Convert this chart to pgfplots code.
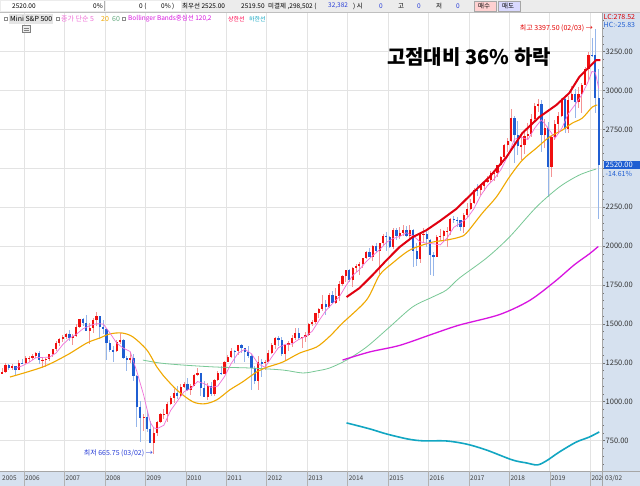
\documentclass[border=0pt]{standalone}
\usepackage{pgfplots}
\pgfplotsset{compat=1.18}
\usepackage{pgfplotstable}
\usepackage{fontspec}
\setmainfont{Noto Sans CJK KR}

\definecolor{upbody}{HTML}{F01010}
\definecolor{upwick}{HTML}{F49494}
\definecolor{dnbody}{HTML}{1F5ED2}
\definecolor{dnwick}{HTML}{96B6EA}
\definecolor{strip}{HTML}{D6E1EF}
\definecolor{gridc}{HTML}{E3E3E3}
\definecolor{ma5}{HTML}{F070D8}
\definecolor{ma20}{HTML}{F0A800}
\definecolor{ma60}{HTML}{78C896}
\definecolor{bbmid}{HTML}{D814E0}
\definecolor{bbup}{HTML}{E00010}
\definecolor{bblo}{HTML}{12A6C2}
\definecolor{barbg}{HTML}{ECECEC}
\definecolor{txtblue}{HTML}{2A3FD8}

% monthly candles: year month open high low close
\pgfplotstableread{
yr mo o h l c
2005 6 1180 1219 1176 1191
2005 7 1191 1246 1183 1234
2005 8 1234 1245 1201 1220
2005 9 1220 1243 1205 1229
2005 10 1229 1233 1168 1207
2005 11 1207 1270 1201 1249
2005 12 1249 1276 1246 1248
2006 1 1248 1295 1245 1280
2006 2 1280 1297 1253 1281
2006 3 1281 1310 1268 1295
2006 4 1295 1319 1280 1311
2006 5 1311 1326 1245 1270
2006 6 1270 1285 1219 1271
2006 7 1271 1283 1224 1277
2006 8 1277 1306 1261 1304
2006 9 1304 1340 1290 1336
2006 10 1336 1389 1327 1378
2006 11 1378 1407 1360 1401
2006 12 1401 1431 1385 1418
2007 1 1418 1441 1403 1438
2007 2 1438 1461 1389 1407
2007 3 1407 1438 1364 1421
2007 4 1421 1499 1416 1482
2007 5 1482 1535 1476 1531
2007 6 1531 1540 1484 1503
2007 7 1503 1556 1454 1455
2007 8 1455 1504 1370 1474
2007 9 1474 1539 1439 1527
2007 10 1527 1576 1489 1549
2007 11 1549 1553 1406 1481
2007 12 1481 1523 1435 1468
2008 1 1468 1471 1270 1379
2008 2 1379 1396 1317 1331
2008 3 1331 1359 1257 1323
2008 4 1323 1397 1318 1386
2008 5 1386 1440 1373 1400
2008 6 1400 1404 1272 1280
2008 7 1280 1292 1200 1267
2008 8 1267 1314 1248 1283
2008 9 1283 1304 1133 1166
2008 10 1166 1171 840 969
2008 11 969 1007 741 896
2008 12 896 919 815 903
2009 1 903 943 805 826
2009 2 826 876 733 737
2009 3 737 832 666 798
2009 4 798 878 783 873
2009 5 873 930 866 919
2009 6 919 956 888 921
2009 7 921 996 869 987
2009 8 987 1039 978 1021
2009 9 1021 1080 992 1057
2009 10 1057 1101 1020 1036
2009 11 1036 1113 1029 1096
2009 12 1096 1130 1086 1115
2010 1 1115 1150 1071 1074
2010 2 1074 1112 1045 1104
2010 3 1104 1180 1102 1169
2010 4 1169 1220 1168 1187
2010 5 1187 1188 1040 1089
2010 6 1089 1131 1029 1031
2010 7 1031 1120 1011 1102
2010 8 1102 1129 1040 1049
2010 9 1049 1148 1040 1141
2010 10 1141 1196 1132 1183
2010 11 1183 1228 1174 1181
2010 12 1181 1263 1177 1258
2011 1 1258 1303 1256 1286
2011 2 1286 1345 1284 1327
2011 3 1327 1332 1249 1326
2011 4 1326 1367 1299 1364
2011 5 1364 1371 1311 1345
2011 6 1345 1346 1258 1321
2011 7 1321 1357 1282 1292
2011 8 1292 1307 1077 1219
2011 9 1219 1230 1114 1131
2011 10 1131 1293 1075 1253
2011 11 1253 1277 1159 1247
2011 12 1247 1270 1202 1258
2012 1 1258 1334 1255 1312
2012 2 1312 1378 1310 1366
2012 3 1366 1419 1341 1408
2012 4 1408 1422 1358 1398
2012 5 1398 1416 1291 1310
2012 6 1310 1363 1267 1362
2012 7 1362 1392 1326 1379
2012 8 1379 1426 1355 1407
2012 9 1407 1475 1396 1441
2012 10 1441 1471 1403 1412
2012 11 1412 1419 1343 1416
2012 12 1416 1448 1385 1426
2013 1 1426 1503 1423 1498
2013 2 1498 1525 1485 1515
2013 3 1515 1570 1501 1569
2013 4 1569 1600 1536 1598
2013 5 1598 1687 1581 1631
2013 6 1631 1654 1560 1606
2013 7 1606 1698 1603 1686
2013 8 1686 1709 1627 1633
2013 9 1633 1730 1630 1682
2013 10 1682 1775 1646 1757
2013 11 1757 1813 1746 1806
2013 12 1806 1849 1767 1848
2014 1 1848 1850 1770 1783
2014 2 1783 1867 1737 1859
2014 3 1859 1883 1834 1872
2014 4 1872 1897 1814 1884
2014 5 1884 1926 1862 1924
2014 6 1924 1968 1915 1960
2014 7 1960 1991 1930 1931
2014 8 1931 2005 1905 2003
2014 9 2003 2019 1964 1972
2014 10 1972 2020 1821 2018
2014 11 2018 2075 2001 2068
2014 12 2068 2093 1972 2059
2015 1 2059 2064 1988 1995
2015 2 1995 2119 1981 2105
2015 3 2105 2117 2040 2068
2015 4 2068 2126 2048 2086
2015 5 2086 2135 2067 2107
2015 6 2107 2130 2056 2063
2015 7 2063 2133 2044 2104
2015 8 2104 2113 1867 1972
2015 9 1972 2021 1872 1920
2015 10 1920 2094 1893 2079
2015 11 2079 2116 2019 2080
2015 12 2080 2104 1993 2044
2016 1 2038 2045 1812 1940
2016 2 1940 1962 1810 1932
2016 3 1932 2072 1931 2060
2016 4 2060 2111 2033 2065
2016 5 2065 2103 2025 2097
2016 6 2097 2120 1992 2099
2016 7 2099 2178 2074 2174
2016 8 2174 2193 2147 2171
2016 9 2171 2187 2120 2168
2016 10 2168 2169 2097 2126
2016 11 2126 2214 2084 2199
2016 12 2199 2278 2187 2239
2017 1 2239 2300 2234 2279
2017 2 2279 2371 2271 2364
2017 3 2364 2401 2322 2363
2017 4 2363 2398 2329 2384
2017 5 2384 2418 2353 2412
2017 6 2412 2454 2405 2423
2017 7 2423 2484 2407 2470
2017 8 2470 2491 2417 2472
2017 9 2472 2522 2447 2519
2017 10 2519 2582 2515 2575
2017 11 2575 2657 2557 2648
2017 12 2648 2695 2605 2674
2018 1 2674 2879 2668 2824
2018 2 2824 2836 2533 2714
2018 3 2714 2803 2586 2641
2018 4 2641 2718 2553 2648
2018 5 2648 2743 2595 2705
2018 6 2705 2791 2691 2718
2018 7 2718 2848 2699 2816
2018 8 2816 2917 2803 2902
2018 9 2902 2944 2864 2914
2018 10 2914 2940 2604 2712
2018 11 2712 2815 2632 2760
2018 12 2760 2800 2316 2507
2019 1 2507 2708 2443 2704
2019 2 2704 2813 2681 2784
2019 3 2784 2860 2722 2834
2019 4 2834 2949 2830 2946
2019 5 2946 2954 2728 2752
2019 6 2752 2964 2728 2942
2019 7 2942 3028 2940 2980
2019 8 2980 3013 2822 2926
2019 9 2926 3022 2891 2977
2019 10 2977 3050 2855 3038
2019 11 3038 3154 3035 3141
2019 12 3141 3248 3070 3231
2020 1 3231 3337 3214 3226
2020 2 3226 3397.5 2853 2951
2020 3 2951 3136 2174 2520
}\candles

% 5-month average of closes
\pgfplotstableread{
yr mo v
2005 10 1216
2005 12 1231
2006 2 1253
2006 4 1283
2006 6 1285
2006 8 1286
2006 10 1313
2006 12 1367
2007 2 1408
2007 4 1433
2007 6 1469
2007 8 1489
2007 10 1502
2007 12 1500
2008 2 1442
2008 4 1377
2008 6 1344
2008 8 1323
2008 10 1193
2008 12 1043
2009 1 952
2009 2 866
2009 3 832
2009 4 827
2009 6 849
2009 8 944
2009 10 1004
2009 12 1065
2010 2 1085
2010 4 1130
2010 6 1116
2010 8 1092
2010 10 1101
2010 12 1162
2011 2 1247
2011 4 1312
2011 6 1337
2011 8 1308
2011 10 1243
2011 12 1222
2012 2 1287
2012 4 1348
2012 6 1369
2012 8 1371
2012 10 1400
2012 12 1420
2013 2 1453
2013 4 1521
2013 6 1584
2013 8 1631
2013 10 1673
2013 12 1745
2014 2 1811
2014 4 1849
2014 6 1900
2014 8 1940
2014 10 1977
2014 12 2024
2015 2 2049
2015 4 2063
2015 6 2086
2015 8 2066
2015 10 2028
2015 12 2019
2016 2 2015
2016 4 2008
2016 6 2051
2016 8 2121
2016 10 2148
2016 12 2181
2017 2 2241
2017 4 2326
2017 6 2389
2017 8 2432
2017 10 2492
2017 12 2578
2018 2 2687
2018 4 2700
2018 6 2685
2018 8 2758
2018 10 2812
2018 12 2759
2019 2 2693
2019 4 2755
2019 6 2852
2019 8 2909
2019 10 2973
2019 12 3063
2020 1 3123
2020 2 3117
2020 3 3014
}\mafive

\newcommand{\fs}[1]{\fontsize{#1}{#1}\selectfont}

\begin{document}
\begin{tikzpicture}[x=1pt,y=1pt]
\useasboundingbox (0,0) rectangle (640,486);
\fill[white] (0,0) rectangle (640,486);
\fill[strip] (602,0) rectangle (640,474);
\fill[strip] (0,0) rectangle (602,15);

\begin{axis}[
  at={(0pt,15pt)}, anchor=south west,
  width=602pt, height=459pt, scale only axis,
  xmin=2005.407, xmax=2020.29, ymin=555, ymax=3505,
  axis line style={draw=none},
  grid=major, major grid style={gridc, line width=0.6pt},
  xtick={2006,...,2020}, xticklabels={}, x tick style={draw=none},
  ytick={750,1000,1250,1500,1750,2000,2250,2750,3000,3250},
  extra y ticks={2500}, extra y tick labels={},
  minor ytick={600,650,...,3450},
  ytick pos=right, yticklabel pos=right,
  tick align=outside, major tick length=3pt, minor tick length=1.5pt,
  y tick style={black!55, line width=0.6pt},
  yticklabel style={font=\fs{7.5}, anchor=west, inner sep=0.5pt, text=black!80},
  /pgf/number format/fixed, /pgf/number format/fixed zerofill,
  /pgf/number format/precision=2, /pgf/number format/1000 sep={},
  /pgf/number format/assume math mode=true,
]
% wicks
\addplot[draw=none, error bars/.cd, y dir=both, y explicit, error mark=none,
  error bar style={draw=upwick, line width=0.9pt}]
  table[x expr=\thisrow{yr}+(\thisrow{mo}-0.5)/12,
        y expr={(\thisrow{c}<\thisrow{o}) ? nan : (\thisrow{h}+\thisrow{l})/2},
        y error expr=(\thisrow{h}-\thisrow{l})/2] {\candles};
\addplot[draw=none, error bars/.cd, y dir=both, y explicit, error mark=none,
  error bar style={draw=dnwick, line width=0.9pt}]
  table[x expr=\thisrow{yr}+(\thisrow{mo}-0.5)/12,
        y expr={(\thisrow{c}<\thisrow{o}) ? (\thisrow{h}+\thisrow{l})/2 : nan},
        y error expr=(\thisrow{h}-\thisrow{l})/2] {\candles};
% bodies
\addplot[draw=none, error bars/.cd, y dir=both, y explicit, error mark=none,
  error bar style={draw=upbody, line width=2.2pt}]
  table[x expr=\thisrow{yr}+(\thisrow{mo}-0.5)/12,
        y expr={(\thisrow{c}<\thisrow{o}) ? nan : (\thisrow{o}+\thisrow{c})/2},
        y error expr=abs(\thisrow{c}-\thisrow{o})/2] {\candles};
\addplot[draw=none, error bars/.cd, y dir=both, y explicit, error mark=none,
  error bar style={draw=dnbody, line width=2.2pt}]
  table[x expr=\thisrow{yr}+(\thisrow{mo}-0.5)/12,
        y expr={(\thisrow{c}<\thisrow{o}) ? (\thisrow{o}+\thisrow{c})/2 : nan},
        y error expr=abs(\thisrow{c}-\thisrow{o})/2] {\candles};

% 60-month average
\addplot[ma60, line width=0.8pt, smooth] coordinates {
(2008.938,1268) (2009.358,1249) (2009.926,1236) (2010.765,1223) (2011.580,1217)
(2012.395,1204) (2012.889,1185) (2013.235,1198) (2013.556,1217) (2013.975,1268)
(2014.469,1352) (2015.037,1480) (2015.605,1609) (2016.099,1673) (2016.444,1718)
(2016.765,1795) (2017.432,1923) (2018.000,2058) (2018.667,2251) (2019.235,2380)
(2019.728,2457) (2020.148,2496)};
% 20-month average
\addplot[ma20, line width=1.1pt, smooth] coordinates {
(2005.654,1159) (2006.469,1224) (2007.062,1300) (2007.556,1378) (2007.877,1410)
(2008.123,1436) (2008.420,1442) (2008.691,1417) (2009.037,1333) (2009.284,1224)
(2009.432,1172) (2009.778,1076) (2010.173,1000) (2010.469,987) (2010.765,1012)
(2011.086,1076) (2011.407,1128) (2011.753,1192) (2011.951,1217) (2012.395,1255)
(2012.815,1313) (2013.235,1352) (2013.556,1420) (2013.877,1506) (2014.469,1654)
(2014.790,1814) (2015.111,1891) (2015.457,1962) (2015.704,1994) (2016.099,2026)
(2016.444,2039) (2016.765,2058) (2016.938,2084) (2017.333,2213) (2017.679,2316)
(2018.000,2444) (2018.321,2553) (2018.667,2630) (2018.988,2701) (2019.309,2746)
(2019.556,2791) (2019.802,2823) (2020.049,2894) (2020.173,2907)};
% 5-month average
\addplot[ma5, line width=0.7pt] table[x expr=\thisrow{yr}+(\thisrow{mo}-0.5)/12, y=v] {\mafive};
% Bollinger centre
\addplot[bbmid, line width=1.3pt, smooth] coordinates {
(2013.877,1268) (2014.543,1320) (2015.284,1362) (2016.099,1435) (2016.765,1493)
(2017.753,1560) (2018.494,1650) (2019.111,1770) (2019.605,1880) (2019.975,1950)
(2020.198,1998)};
% Bollinger upper
\addplot[bbup, line width=2pt] coordinates {
(2013.975,1673) (2014.296,1731) (2014.617,1814) (2014.963,1910) (2015.284,1994)
(2015.605,2058) (2015.951,2103) (2016.272,2160) (2016.691,2240) (2017.086,2341)
(2017.506,2444) (2017.926,2572) (2018.321,2727) (2018.741,2830) (2019.160,2907)
(2019.481,2984) (2019.728,3087) (2019.975,3151) (2020.148,3196) (2020.247,3196)};
% Bollinger lower
\addplot[bblo, line width=1.6pt, smooth] coordinates {
(2013.975,864) (2014.543,826) (2014.963,793) (2015.481,761) (2015.852,749)
(2016.444,748) (2016.938,728) (2017.432,690) (2018.074,626) (2018.420,607)
(2018.691,594) (2018.914,620) (2019.235,677) (2019.654,741) (2019.975,773)
(2020.222,806)};
\end{axis}

% strip borders and year labels
\draw[black!35, line width=0.6pt] (602,0) -- (602,474);
\draw[black!35, line width=0.6pt] (0,15) -- (640,15);
\node[anchor=west, inner sep=1pt, font=\fs{6.5}, text=black!75] at (1,7.5) {2005};
\foreach \yr in {2006,...,2019} {
  \pgfmathsetmacro{\xx}{24+(\yr-2006)*40.45}
  \draw[black!30, line width=0.5pt] (\xx,0) -- (\xx,15);
  \node[anchor=west, inner sep=1pt, font=\fs{6.5}, text=black!75] at (\xx,7.5) {\yr};
}
\draw[black!30, line width=0.5pt] (590.3,0) -- (590.3,15);
\begin{scope}
\clip (590.3,0) rectangle (602,15);
\node[anchor=west, inner sep=1pt, font=\fs{6.5}, text=black!75] at (590.3,7.5) {2020};
\end{scope}
\node[anchor=west, inner sep=1pt, font=\fs{6.5}, text=black!75] at (604,7.5) {03/02};

% right strip extras
\node[anchor=west, inner sep=0.5pt, font=\fs{7}, text=red!85!black] at (603,469) {LC:278.52};
\node[anchor=west, inner sep=0.5pt, font=\fs{7}, text=dnbody] at (603,461) {HC:-25.83};
\fill[dnbody] (604,316.5) rectangle (639.5,325);
\node[anchor=west, inner sep=0.5pt, font=\fs{7.5}, text=white] at (605,320.7) {2520.00};
\node[anchor=west, inner sep=0.5pt, font=\fs{7}, text=dnbody] at (605,312.5) {-14.61\%};

% top toolbar
\fill[barbg] (0,474) rectangle (640,486);
\draw[black!25, line width=0.5pt] (0,474) -- (640,474);
\fill[white] (1,475) rectangle (104,485);
\fill[white] (106,475) rectangle (181,485);
\draw[black!30, line width=0.4pt] (104.5,475) -- (104.5,485);
\fill[red!18] (474,475) rectangle (496,485);
\fill[blue!15] (498,475) rectangle (520,485);
\draw[black!35, line width=0.4pt] (474,475) rectangle (496,485);
\draw[black!35, line width=0.4pt] (498,475) rectangle (520,485);
\begin{scope}[every node/.style={inner sep=0pt, font=\fs{6.5}, anchor=west}]
\node at (12,480) {2520.00};
\node at (93,480) {0\%};
\node at (139,480) {0 (};
\node at (161,480) {0\% )};
\node at (182,480) {최우선 2525.00};
\node at (241,480) {2519.50};
\node at (268,480) {미결제 ,298,502 (};
\node[text=txtblue] at (328,480) {32,382};
\node at (353,480) {) 시};
\node[text=txtblue] at (379,480) {0};
\node at (398,480) {고};
\node[text=txtblue] at (417,480) {0};
\node at (436,480) {저};
\node[text=txtblue] at (456,480) {0};
\node at (478,480) {매수};
\node at (502,480) {매도};
\end{scope}

% legend row
\fill[black!10] (9,462) rectangle (53,472);
\foreach \xx in {4,56,122} {\draw[black!45, line width=0.4pt] (\xx,465.5) rectangle (\xx+3,468.5);}
\begin{scope}[every node/.style={inner sep=0pt, font=\fs{7}, anchor=west}]
\node at (10,467) {Mini S\&P 500};
\node[text=ma5] at (61,467) {종가 단순 5};
\node[text=ma20] at (101,467) {20};
\node[text=ma60!85!black] at (112,467) {60};
\node[text=bbmid, font=\fs{6.5}] at (128,467) {Bollinger Bands중심선 120,2};
\node[text=red!70!magenta, font=\fs{6}] at (228,467) {상한선};
\node[text=bblo, font=\fs{6}] at (249,467) {하한선};
\end{scope}
\draw[black!50, fill=black!8, line width=0.4pt] (22,454) rectangle (30,461);
\draw[black!50, line width=0.4pt] (23.5,456) -- (28.5,456) (23.5,458) -- (28.5,458);

% annotations
\node[anchor=center, inner sep=0pt, font=\fs{20}\bfseries] at (469,429) {고점대비 36\% 하락};
\node[anchor=east, inner sep=0pt, font=\fs{7}, text=red!90!black] at (593,457.5) {최고 3397.50 (02/03) →};
\node[anchor=east, inner sep=0pt, font=\fs{7}, text=txtblue] at (153,33) {최저 665.75 (03/02) →};
\end{tikzpicture}
\end{document}
